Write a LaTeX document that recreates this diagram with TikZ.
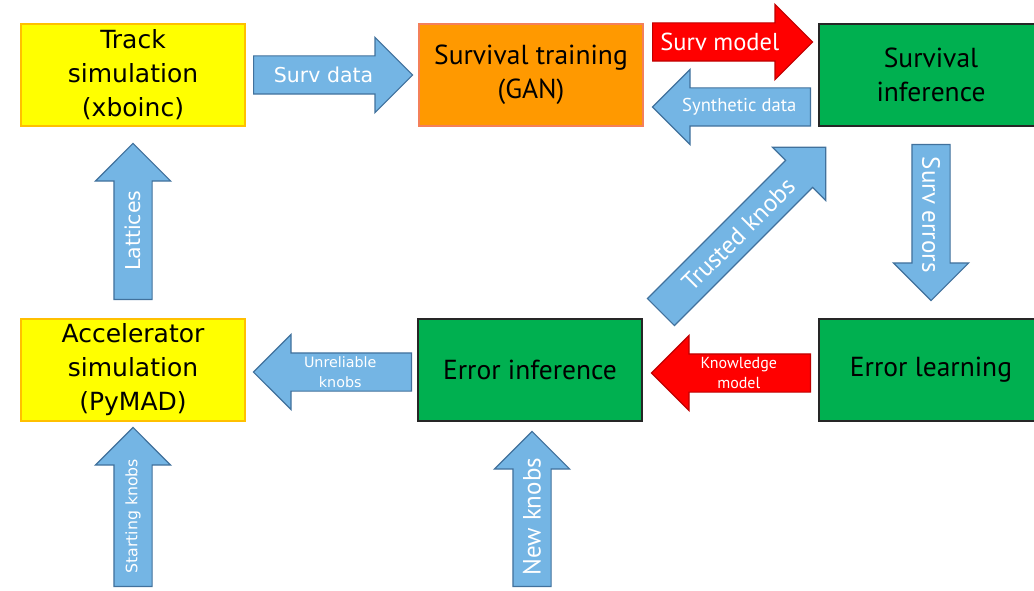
\documentclass[tikz,border=0pt]{standalone}
\usepackage{fontspec}
\setmainfont{PT Sans}
\newfontfamily\verd{DejaVu Sans}
\usepackage{xcolor}
\usetikzlibrary{shapes.arrows,calc}
\definecolor{simyellow}{HTML}{FFFF00}
\definecolor{simedge}{HTML}{FFC000}
\definecolor{ganorange}{HTML}{FF9900}
\definecolor{ganedge}{HTML}{F4805A}
\definecolor{infgreen}{HTML}{00B050}
\definecolor{flowblue}{HTML}{74B5E4}
\definecolor{flowedge}{HTML}{41719C}
\definecolor{flowred}{HTML}{FF0000}
\definecolor{flowrededge}{HTML}{C00000}
\tikzset{
  box/.style={draw,line width=1.2pt,minimum width=224pt,minimum height=102pt,
    inner sep=0pt,align=center,yshift=-2pt,font=\fontsize{27.5}{34}\selectfont},
  simbox/.style={box,fill=simyellow,draw=simedge,font=\verd\fontsize{25}{34}\selectfont},
  ganbox/.style={box,fill=ganorange,draw=ganedge},
  infbox/.style={box,fill=infgreen,draw=black!85},
  flow/.style={single arrow,draw=flowedge,fill=flowblue,line width=1.2pt,
    minimum height=158pt,minimum width=74pt,inner xsep=0pt,inner ysep=18.5pt,
    single arrow head extend=18.5pt,anchor=tail},
  redflow/.style={flow,draw=flowrededge,fill=flowred},
  flowtext/.style={text=white,align=center,inner sep=0pt}
}
\begin{document}
\begin{tikzpicture}[x=1pt,y=-1pt]
  \clip (0,0) rectangle (1034,591);
  % boxes
  \node[simbox] (track) at (133,73) {Track\\simulation\\(xboinc)};
  \node[ganbox] (gan) at (531,73) {Survival training\\(GAN)};
  \node[infbox] (survinf) at (931,73) {Survival\\inference};
  \node[simbox] (accel) at (133,368) {Accelerator\\simulation\\(PyMAD)};
  \node[infbox] (errinf) at (530,368) {Error inference};
  \node[infbox] (errlearn) at (931,368) {Error learning};
  % block arrows
  \node[flow,minimum height=159pt] (survdata) at (253,75) {};
  \node[redflow,minimum height=160pt] (survmodel) at (652,42) {};
  \node[flow,rotate=180] (synth) at (811,107) {};
  \node[flow,rotate=90,minimum height=156pt] (lattices) at (133,300) {};
  \node[flow,rotate=90,minimum height=159pt] (startknobs) at (133,587) {};
  \node[flow,rotate=180] (unrel) at (412,372) {};
  \node[redflow,rotate=180,minimum height=159pt] (knowmodel) at (811,373) {};
  \node[flow,rotate=90,minimum height=155pt] (newknobs) at (532,587) {};
  \node[flow,rotate=-90,minimum height=156pt] (surverrors) at (931,144) {};
  \node[flow,rotate=45,minimum height=233pt] (trusted) at (660.5,312.5) {};
  % labels
  \node[flowtext,font=\verd\fontsize{20.5}{24}\selectfont] (survdatatxt)
    at ($(survdata.tail)!0.44!(survdata.tip)$) {Surv data};
  \node[flowtext,font=\fontsize{24.5}{30}\selectfont] (survmodeltxt)
    at ($(survmodel.tail)!0.42!(survmodel.tip)$) {Surv model};
  \node[flowtext,font=\fontsize{18.6}{22}\selectfont] (synthtxt)
    at ($(synth.tail)!0.45!(synth.tip)$) {Synthetic data};
  \node[flowtext,rotate=90,font=\verd\fontsize{20.5}{24}\selectfont] (latticestxt)
    at ($(lattices.tail)!0.44!(lattices.tip)$) {Lattices};
  \node[flowtext,rotate=90,font=\verd\fontsize{15.75}{19}\selectfont] (startknobstxt)
    at ($(startknobs.tail)!0.44!(startknobs.tip)$) {Starting knobs};
  \node[flowtext,font=\verd\fontsize{14.3}{20}\selectfont] (unreltxt)
    at ($(unrel.tail)!0.45!(unrel.tip)$) {Unreliable\\knobs};
  \node[flowtext,font=\fontsize{16}{20}\selectfont] (knowmodeltxt)
    at ($(knowmodel.tail)!0.45!(knowmodel.tip)$) {Knowledge\\model};
  \node[flowtext,rotate=90,font=\fontsize{25}{30}\selectfont] (newknobstxt)
    at ($(newknobs.tail)!0.45!(newknobs.tip)$) {New knobs};
  \node[flowtext,rotate=-90,font=\fontsize{25}{30}\selectfont] (surverrorstxt)
    at ($(surverrors.tail)!0.45!(surverrors.tip)$) {Surv errors};
  \node[flowtext,rotate=45,font=\fontsize{25}{30}\selectfont] (trustedtxt)
    at ($(trusted.tail)!0.47!(trusted.tip)$) {Trusted knobs};
\end{tikzpicture}
\end{document}
